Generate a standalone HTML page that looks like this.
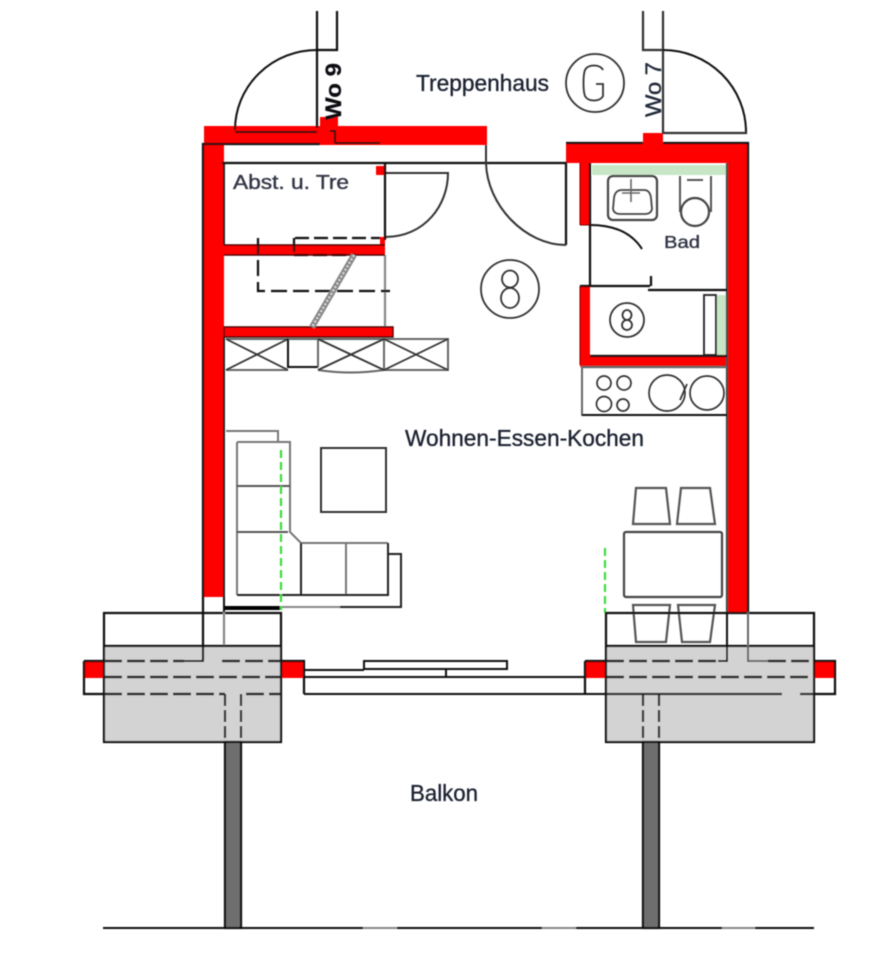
<!DOCTYPE html>
<html><head><meta charset="utf-8">
<style>
html,body{margin:0;padding:0;background:#fff;width:871px;height:960px;overflow:hidden}
svg{display:block}
text{font-family:"Liberation Sans",sans-serif;fill:#1c2230}
</style></head>
<body>
<svg width="871" height="960" viewBox="0 0 871 960" xmlns="http://www.w3.org/2000/svg">
<defs><filter id="b" x="-5%" y="-5%" width="110%" height="110%"><feGaussianBlur stdDeviation="0.65"/></filter></defs>
<g filter="url(#b)" fill="none" stroke="#111" stroke-width="2.2">
<!-- balcony grey -->
<rect x="104" y="646" width="177" height="96" fill="#d3d3d3" stroke="none"/>
<rect x="606" y="646" width="208" height="96" fill="#d3d3d3" stroke="none"/>
<!-- red walls -->
<g fill="#fe0000" stroke="none">
<rect x="204" y="126" width="283" height="19"/>
<rect x="320" y="117" width="18" height="28"/>
<rect x="203" y="143" width="21" height="454"/>
<path d="M566 143H643V133H663V143H748V612H727V163H566Z"/>
<rect x="580" y="163" width="10" height="62"/>
<path d="M580 286H590V356H728V367H580Z"/>
<rect x="224" y="245" width="161" height="10"/>
<rect x="380" y="237" width="5" height="18"/>
<rect x="376" y="166" width="9" height="9"/>
<rect x="224" y="327" width="169" height="10"/>
<rect x="84" y="661" width="20" height="17"/>
<rect x="281" y="661" width="23" height="17"/>
<rect x="585" y="661" width="21" height="17"/>
<rect x="814" y="661" width="21" height="17"/>
</g>
<!-- green -->
<rect x="592" y="165" width="136" height="10" fill="#c6e6c6" stroke="none"/>
<rect x="716" y="295" width="11" height="60" fill="#c6e6c6" stroke="none"/>
<!-- wall outlines -->
<path d="M203 660V144H320M222 163H567M566 143H643M663 143H748V612M566 163V245"/>
<path d="M235 132H317M330 131H335V143M335 143H380" stroke-width="2"/>
<path d="M224 163V245M224 337V597" stroke-width="1.8"/>
<path d="M727 163V612" stroke="#444"/>
<path d="M590 163V225M590 225V286M580 286H650M648 290H727M651 276V286M590 356H727M582 367H727" stroke-width="2.2"/>
<path d="M580 163V225M580 225H590M580 286V365" stroke="#600" stroke-width="1"/>
<!-- entry doors -->
<path d="M317 11V128M337 11V50H317"/>
<path d="M317 50A82 80 0 0 0 235 130" stroke-width="2"/>
<path d="M643 11V50H663M663 11V133H746V132" stroke="#333"/>
<path d="M663 50A83 82 0 0 1 746 132" stroke-width="2"/>
<!-- circles -->
<circle cx="595" cy="83" r="29" stroke="#333" stroke-width="1.8"/>
<path d="M603 70C600 64 588 64 585 70C583 75 583 91 585 96C588 102 600 102 603 96V84H596" stroke="#333" stroke-width="1.8"/>
<circle cx="510" cy="289" r="29" stroke="#333" stroke-width="1.8"/>
<ellipse cx="510" cy="279" rx="8" ry="8.5" stroke="#333" stroke-width="1.8"/>
<ellipse cx="510" cy="298" rx="9" ry="10" stroke="#333" stroke-width="1.8"/>
<circle cx="627" cy="320" r="17" stroke="#333" stroke-width="1.8"/>
<ellipse cx="627" cy="315" rx="4.5" ry="5" stroke="#333" stroke-width="1.8"/>
<ellipse cx="627" cy="325" rx="5" ry="5" stroke="#333" stroke-width="1.8"/>
<!-- main doors -->
<path d="M486 145V163C487 205 525 245 566 245" stroke="#333" stroke-width="2"/>
<path d="M385 173H448C448 205 425 237 385 237" stroke="#333" stroke-width="2"/>
<!-- store room -->
<path d="M385 163V240" stroke-width="2.2"/>
<path d="M385 255V327" stroke="#888"/>
<path d="M295 238H380" stroke-dasharray="14 5"/>
<path d="M294 238V255M294 255H355" stroke-dasharray="14 5" stroke-width="2.2"/>
<path d="M258 238V291H390" stroke-dasharray="16 6"/>
<path d="M224 245H385M224 255H385M224 327H393V337H224Z" stroke-width="1.4" stroke="#400"/>
<path d="M354 255L312 327" stroke="#888" stroke-width="6"/>
<path d="M354 255L312 327" stroke="#ddd" stroke-width="2" stroke-dasharray="2 2"/>
<!-- wardrobes -->
<g stroke="#666" stroke-width="2">
<path d="M226 339H448V370H384M226 370H288M318 370Q350 375 384 370M318 339V367M384 339V370"/>
<path d="M226 339L288 370M288 339L226 370M318 339L384 370M384 339L318 370M384 339L448 370M448 339L384 370" stroke="#333" stroke-width="1.8"/>
</g>
<path d="M288 339V367H318" stroke-width="2"/>
<!-- sofa -->
<g stroke="#777" stroke-width="2">
<path d="M226 431H278V442M237 442H290V532L301 543H388M237 442V595M346 543V595"/>
</g>
<path d="M237 486H290M237 532H288" stroke="#555" stroke-width="2"/>
<path d="M237 595H388V543M301 543V595M388 554H401V607H340" stroke="#222" stroke-width="2"/>
<path d="M340 607H226" stroke="#888" stroke-width="2"/>
<path d="M224 608H281" stroke="#000" stroke-width="4"/>
<rect x="321" y="448" width="65" height="64" stroke="#333" stroke-width="2"/>
<path d="M281 450V610M605 548V613" stroke="#3fdc3f" stroke-width="2.2" stroke-dasharray="8 4"/>
<!-- bathroom -->
<rect x="608" y="176" width="49" height="44" rx="5" stroke="#444"/>
<path d="M614 198Q615 190 622 190H644Q650 190 651 198L652 209Q651 214 645 214H620Q614 214 613 209Z" stroke="#444" stroke-width="1.8"/>
<path d="M631 179V202M622 193H640" stroke="#666" stroke-width="1.6"/>
<path d="M680 176V212M711 176V212M687 180H703" stroke="#555" stroke-width="2"/>
<circle cx="695" cy="212" r="14" stroke="#444"/>
<path d="M590 225C615 225 632 233 642 249" stroke-width="2"/>
<rect x="704" y="295" width="12" height="60" stroke="#222" stroke-width="1.8"/>
<!-- kitchen -->
<path d="M727 367H582V415H727" stroke="#666" stroke-width="2"/>
<path d="M582 415H727" stroke-width="2"/>
<g stroke="#333" stroke-width="1.7">
<circle cx="604" cy="383" r="7"/><circle cx="624" cy="383" r="7"/>
<circle cx="604" cy="404" r="7.5"/><circle cx="623" cy="405" r="6"/>
<circle cx="667" cy="393" r="18"/><circle cx="707" cy="393" r="17"/>
<path d="M680 400L687 384"/>
</g>
<!-- dining -->
<g stroke="#555" stroke-width="2.2">
<path d="M636 488H666L670 524H633Z"/>
<path d="M681 488H710L715 524H677Z"/>
<path d="M633 605H670L666 642H636Z"/>
<path d="M678 605H715L710 642H682Z"/>
</g>
<rect x="624" y="532" width="98" height="65" rx="2" stroke="#444" stroke-width="2.2"/>
<!-- balcony blocks -->
<rect x="104" y="613" width="177" height="129"/>
<rect x="606" y="613" width="208" height="129"/>
<path d="M104 646H281M606 646H814"/>
<path d="M203 597V661H184M224 597V645" stroke-width="2"/>
<path d="M224 612V645" stroke="#888"/>
<path d="M727 612V661H718" stroke-width="2"/>
<path d="M748 612V661H768" stroke="#666" stroke-width="2"/>
<path d="M104 661H184M222 661H281M606 661H718M768 661H814" stroke-dasharray="18 5" stroke="#222" stroke-width="2.4"/>
<path d="M104 677H281M606 677H814" stroke-dasharray="18 5" stroke="#222" stroke-width="2.4"/>
<path d="M104 694H225M246 694H281" stroke-dasharray="18 5" stroke="#222" stroke-width="2.4"/>
<path d="M606 694H782M800 694H814" stroke="#222"/>
<path d="M84 661V694H104M84 661H104M281 661H304V694M585 661H606M585 661V694M814 661H835V694H814"/>
<path d="M304 670H364M364 669V661H507V669H446V677M446 669H364M304 677H585M304 694H606M507 661V669" stroke-width="2"/>
<!-- columns -->
<path d="M225 694V742M241 694V742M643 694V742M659 694V742" stroke-dasharray="12 4" stroke="#222"/>
<rect x="225" y="742" width="16" height="186" fill="#6e6e6e"/>
<rect x="643" y="742" width="16" height="186" fill="#6e6e6e"/>
<path d="M103 928H814" stroke-width="2"/>
<path d="M363 928H397M542 928H576M722 928H755" stroke="#888" stroke-width="2"/>
<!-- texts -->
<g stroke="#1c2230" stroke-width="0.35">
<text x="416" y="91" font-size="23" textLength="133" lengthAdjust="spacingAndGlyphs">Treppenhaus</text>
<text x="405" y="446" font-size="23" textLength="239" lengthAdjust="spacingAndGlyphs">Wohnen-Essen-Kochen</text>
<text x="410" y="801" font-size="23" textLength="68" lengthAdjust="spacingAndGlyphs">Balkon</text>
<text x="233" y="189" font-size="20" textLength="116" lengthAdjust="spacingAndGlyphs" style="fill:#34384a">Abst. u. Tre</text>
<text x="664" y="248" font-size="17.5" textLength="36" lengthAdjust="spacingAndGlyphs" style="fill:#34384a">Bad</text>
<text transform="translate(341 120) rotate(-90)" font-size="22" font-weight="bold" textLength="57" lengthAdjust="spacingAndGlyphs" style="fill:#111">Wo 9</text>
<text transform="translate(661 117) rotate(-90)" font-size="22" textLength="55" lengthAdjust="spacingAndGlyphs" style="fill:#222a3a">Wo 7</text>
</g>
</g>
</svg>
</body></html>
